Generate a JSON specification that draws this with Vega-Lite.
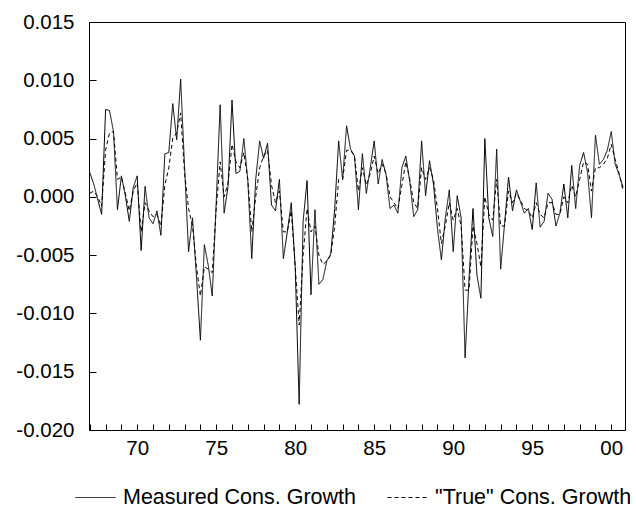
{
  "$schema": "https://vega.github.io/schema/vega-lite/v6.json",
  "width": 536,
  "height": 408,
  "autosize": {"type": "none"},
  "padding": {"left": 89, "top": 22, "right": 11, "bottom": 82},
  "background": "white",
  "config": {
    "view": {"stroke": "black", "strokeWidth": 1},
    "font": "Liberation Sans",
    "axis": {"domain": false, "grid": false, "tickColor": "black", "labelColor": "black", "labelFont": "Liberation Sans", "labelFontSize": 20.5, "title": null}
  },
  "data": {
    "values": [
      {"t": 1967, "m": 0.0021, "tr": 0.0003},
      {"t": 1967.25, "m": 0.0011, "tr": 0.0005},
      {"t": 1967.5, "m": -0.0002, "tr": 0.0},
      {"t": 1967.75, "m": -0.0015, "tr": -0.0008},
      {"t": 1968, "m": 0.0075, "tr": 0.004},
      {"t": 1968.25, "m": 0.0074, "tr": 0.0055},
      {"t": 1968.5, "m": 0.0056, "tr": 0.0056},
      {"t": 1968.75, "m": -0.0011, "tr": 0.0015},
      {"t": 1969, "m": 0.0018, "tr": 0.0017},
      {"t": 1969.25, "m": 0.0001, "tr": 0.0003},
      {"t": 1969.5, "m": -0.0021, "tr": -0.0012},
      {"t": 1969.75, "m": 0.0008, "tr": 0.0005},
      {"t": 1970, "m": 0.0018, "tr": 0.0012},
      {"t": 1970.25, "m": -0.0046, "tr": -0.003},
      {"t": 1970.5, "m": 0.0009, "tr": -0.0005},
      {"t": 1970.75, "m": -0.0018, "tr": -0.0012},
      {"t": 1971, "m": -0.0023, "tr": -0.0017},
      {"t": 1971.25, "m": -0.0012, "tr": -0.0015},
      {"t": 1971.5, "m": -0.0033, "tr": -0.0025},
      {"t": 1971.75, "m": 0.0037, "tr": 0.001},
      {"t": 1972, "m": 0.0038, "tr": 0.0025},
      {"t": 1972.25, "m": 0.008, "tr": 0.005},
      {"t": 1972.5, "m": 0.0049, "tr": 0.0055},
      {"t": 1972.75, "m": 0.0101, "tr": 0.0072},
      {"t": 1973, "m": 0.0025, "tr": 0.002},
      {"t": 1973.25, "m": -0.0047, "tr": -0.001},
      {"t": 1973.5, "m": -0.0018, "tr": -0.0025},
      {"t": 1973.75, "m": -0.0068, "tr": -0.006},
      {"t": 1974, "m": -0.0123, "tr": -0.0085},
      {"t": 1974.25, "m": -0.0041, "tr": -0.006},
      {"t": 1974.5, "m": -0.0059, "tr": -0.0062},
      {"t": 1974.75, "m": -0.0085, "tr": -0.0065},
      {"t": 1975, "m": -0.0005, "tr": -0.001},
      {"t": 1975.25, "m": 0.0079, "tr": 0.003},
      {"t": 1975.5, "m": -0.0014, "tr": 0.0},
      {"t": 1975.75, "m": 0.0009, "tr": 0.0012},
      {"t": 1976, "m": 0.0083, "tr": 0.0045},
      {"t": 1976.25, "m": 0.002, "tr": 0.003},
      {"t": 1976.5, "m": 0.0022, "tr": 0.0025},
      {"t": 1976.75, "m": 0.005, "tr": 0.0038},
      {"t": 1977, "m": 0.0014, "tr": 0.0015},
      {"t": 1977.25, "m": -0.0053, "tr": -0.003},
      {"t": 1977.5, "m": 0.0015, "tr": 0.0},
      {"t": 1977.75, "m": 0.0048, "tr": 0.0025},
      {"t": 1978, "m": 0.0033, "tr": 0.0035},
      {"t": 1978.25, "m": 0.0046, "tr": 0.004},
      {"t": 1978.5, "m": -0.0007, "tr": 0.001},
      {"t": 1978.75, "m": -0.0012, "tr": -0.0005},
      {"t": 1979, "m": 0.0015, "tr": 0.0005},
      {"t": 1979.25, "m": -0.0053, "tr": -0.003},
      {"t": 1979.5, "m": -0.003, "tr": -0.003},
      {"t": 1979.75, "m": -0.0005, "tr": -0.0012},
      {"t": 1980, "m": -0.006, "tr": -0.006},
      {"t": 1980.25, "m": -0.0178, "tr": -0.011},
      {"t": 1980.5, "m": -0.0021, "tr": -0.005},
      {"t": 1980.75, "m": 0.0014, "tr": -0.001},
      {"t": 1981, "m": -0.0084, "tr": -0.003},
      {"t": 1981.25, "m": -0.0011, "tr": -0.0025},
      {"t": 1981.5, "m": -0.0075, "tr": -0.005},
      {"t": 1981.75, "m": -0.0071, "tr": -0.0058},
      {"t": 1982, "m": -0.0055, "tr": -0.0055},
      {"t": 1982.25, "m": -0.0049, "tr": -0.005},
      {"t": 1982.5, "m": -0.001, "tr": -0.0025},
      {"t": 1982.75, "m": 0.0048, "tr": 0.0015},
      {"t": 1983, "m": 0.0015, "tr": 0.0015},
      {"t": 1983.25, "m": 0.0061, "tr": 0.004},
      {"t": 1983.5, "m": 0.0041, "tr": 0.004},
      {"t": 1983.75, "m": 0.0035, "tr": 0.0035},
      {"t": 1984, "m": -0.0011, "tr": 0.0005},
      {"t": 1984.25, "m": 0.0037, "tr": 0.0025},
      {"t": 1984.5, "m": 0.0003, "tr": 0.001},
      {"t": 1984.75, "m": 0.0025, "tr": 0.002},
      {"t": 1985, "m": 0.0048, "tr": 0.0035},
      {"t": 1985.25, "m": 0.0011, "tr": 0.002},
      {"t": 1985.5, "m": 0.0032, "tr": 0.0028},
      {"t": 1985.75, "m": 0.0019, "tr": 0.002},
      {"t": 1986, "m": -0.001, "tr": 0.0},
      {"t": 1986.25, "m": -0.0007, "tr": -0.0005},
      {"t": 1986.5, "m": -0.0014, "tr": -0.001},
      {"t": 1986.75, "m": 0.0025, "tr": 0.001},
      {"t": 1987, "m": 0.0035, "tr": 0.003},
      {"t": 1987.25, "m": 0.0013, "tr": 0.0015},
      {"t": 1987.5, "m": -0.0017, "tr": -0.0005},
      {"t": 1987.75, "m": -0.0011, "tr": -0.001},
      {"t": 1988, "m": 0.0048, "tr": 0.0025},
      {"t": 1988.25, "m": 0.0001, "tr": 0.0015},
      {"t": 1988.5, "m": 0.0031, "tr": 0.0025},
      {"t": 1988.75, "m": 0.0011, "tr": 0.0015},
      {"t": 1989, "m": -0.0027, "tr": -0.001},
      {"t": 1989.25, "m": -0.0054, "tr": -0.004},
      {"t": 1989.5, "m": -0.0018, "tr": -0.0025},
      {"t": 1989.75, "m": 0.0006, "tr": -0.0005},
      {"t": 1990, "m": -0.0047, "tr": -0.002},
      {"t": 1990.25, "m": 0.0001, "tr": -0.001},
      {"t": 1990.5, "m": -0.0018, "tr": -0.0025},
      {"t": 1990.75, "m": -0.0138, "tr": -0.008},
      {"t": 1991, "m": -0.007, "tr": -0.008},
      {"t": 1991.25, "m": -0.001, "tr": -0.0025},
      {"t": 1991.5, "m": -0.0067, "tr": -0.004},
      {"t": 1991.75, "m": -0.0087, "tr": -0.006},
      {"t": 1992, "m": 0.005, "tr": 0.0},
      {"t": 1992.25, "m": -0.0018, "tr": -0.0015},
      {"t": 1992.5, "m": -0.0034, "tr": -0.002},
      {"t": 1992.75, "m": 0.0041, "tr": 0.0015},
      {"t": 1993, "m": -0.0062, "tr": -0.0025},
      {"t": 1993.25, "m": -0.0023, "tr": -0.0025},
      {"t": 1993.5, "m": 0.0017, "tr": 0.0005},
      {"t": 1993.75, "m": -0.0012, "tr": -0.0005},
      {"t": 1994, "m": 0.0006, "tr": 0.0003},
      {"t": 1994.25, "m": -0.0004, "tr": -0.0003},
      {"t": 1994.5, "m": -0.0014, "tr": -0.001},
      {"t": 1994.75, "m": -0.001, "tr": -0.0012},
      {"t": 1995, "m": -0.0028, "tr": -0.0018},
      {"t": 1995.25, "m": 0.0012, "tr": -0.0005},
      {"t": 1995.5, "m": -0.0026, "tr": -0.0015},
      {"t": 1995.75, "m": -0.0021, "tr": -0.0018},
      {"t": 1996, "m": 0.0003, "tr": -0.0005},
      {"t": 1996.25, "m": -0.0002, "tr": -0.0005},
      {"t": 1996.5, "m": -0.0025, "tr": -0.0015},
      {"t": 1996.75, "m": -0.0014, "tr": -0.0015},
      {"t": 1997, "m": 0.0011, "tr": 0.0},
      {"t": 1997.25, "m": -0.0018, "tr": -0.0005},
      {"t": 1997.5, "m": 0.0027, "tr": 0.001},
      {"t": 1997.75, "m": -0.001, "tr": 0.0},
      {"t": 1998, "m": 0.0027, "tr": 0.0015},
      {"t": 1998.25, "m": 0.0038, "tr": 0.003},
      {"t": 1998.5, "m": 0.0021, "tr": 0.0028},
      {"t": 1998.75, "m": -0.0018, "tr": 0.0005},
      {"t": 1999, "m": 0.0053, "tr": 0.0025},
      {"t": 1999.25, "m": 0.0028, "tr": 0.0025},
      {"t": 1999.5, "m": 0.0032, "tr": 0.0028},
      {"t": 1999.75, "m": 0.004, "tr": 0.0033},
      {"t": 2000, "m": 0.0056, "tr": 0.0045},
      {"t": 2000.25, "m": 0.0028, "tr": 0.0032},
      {"t": 2000.5, "m": 0.0019, "tr": 0.002},
      {"t": 2000.75, "m": 0.0008, "tr": 0.0005}
    ]
  },
  "transform": [{"fold": ["m", "tr"], "as": ["series", "value"]}],
  "mark": {"type": "line", "color": "black", "strokeWidth": 1, "clip": true},
  "encoding": {
    "x": {
      "field": "t", "type": "quantitative",
      "scale": {"domain": [1966.95, 2000.87], "nice": false, "zero": false},
      "axis": {
        "values": [1967,1968,1969,1970,1971,1972,1973,1974,1975,1976,1977,1978,1979,1980,1981,1982,1983,1984,1985,1986,1987,1988,1989,1990,1991,1992,1993,1994,1995,1996,1997,1998,1999,2000],
        "tickSize": -6, "labelPadding": 14, "labelOverlap": false, "labelFlush": false,
        "labelExpr": "datum.value % 5 == 0 ? substring(toString(datum.value), 2, 4) : ''"
      }
    },
    "y": {
      "field": "value", "type": "quantitative",
      "scale": {"domain": [-0.02, 0.015], "nice": false, "zero": false},
      "axis": {
        "values": [-0.02, -0.015, -0.01, -0.005, 0, 0.005, 0.01, 0.015],
        "tickSize": -7, "labelPadding": 22, "labelOverlap": false, "labelFlush": false,
        "labelExpr": "replace(format(datum.value, '.3f'), '\u2212', '-')"
      }
    },
    "strokeDash": {
      "field": "series", "type": "nominal",
      "scale": {"domain": ["m", "tr"], "range": [[1, 0], [4, 3]]},
      "legend": {
        "title": null, "orient": "none", "direction": "horizontal",
        "legendX": -14, "legendY": 455,
        "symbolType": "stroke", "symbolSize": 1600, "symbolStrokeWidth": 1, "symbolStrokeColor": "black",
        "labelFont": "Liberation Sans", "labelFontSize": 21.5, "labelColor": "black", "labelOffset": 7, "columnPadding": 28,
        "labelLimit": 400,
        "labelExpr": "datum.value == 'm' ? 'Measured Cons. Growth' : '\"True\" Cons. Growth'"
      }
    }
  }
}
